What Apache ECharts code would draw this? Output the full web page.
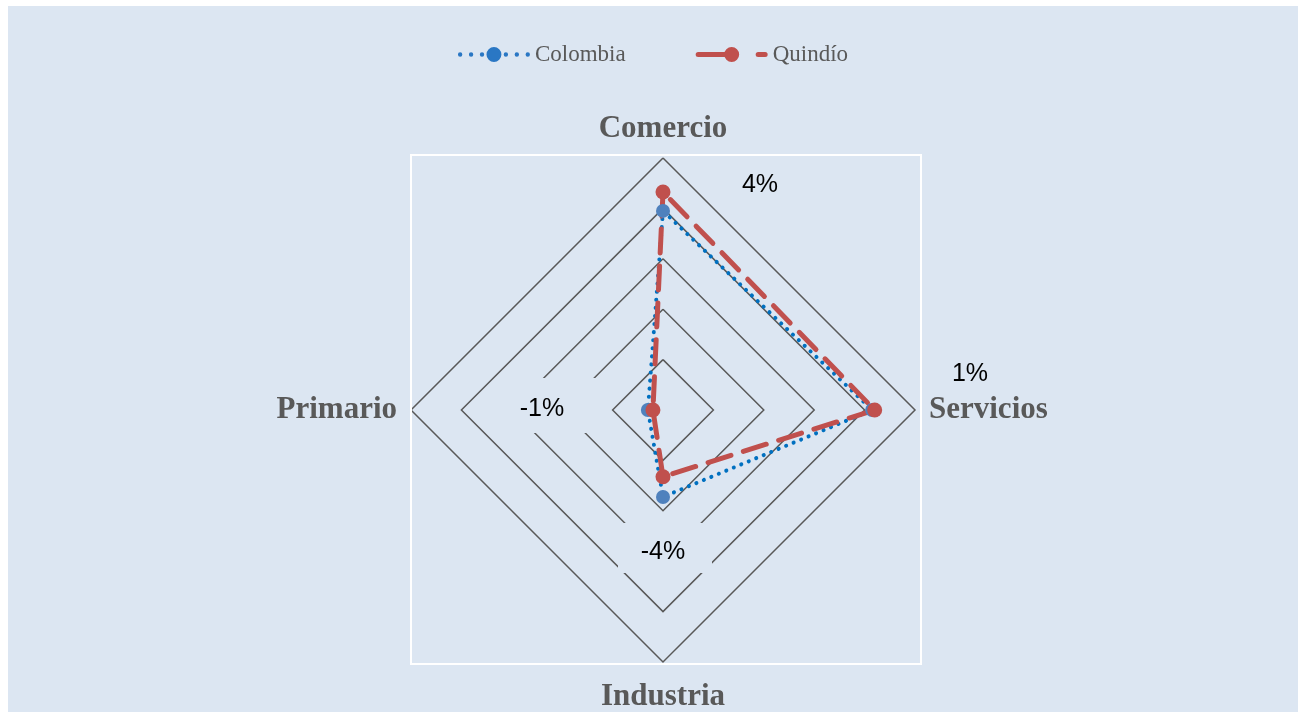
<!DOCTYPE html>
<html lang="es">
<head>
    <meta charset="UTF-8">
    <script src="https://cdn.jsdelivr.net/npm/echarts@6/dist/echarts.min.js"></script>
    <title>Radar Colombia vs Quindío</title>
    <style>
        body { margin: 0; background: #ffffff; }
        #main { position: absolute; left: 8px; top: 6px; width: 1290px; height: 706px; background: #dce6f2; }
    </style>
</head>
<body>
    <div id="main"></div>
    <script type="text/javascript">
        // categories clockwise from the top, as in the picture
        let categories = ['Comercio', 'Servicios', 'Industria', 'Primario'];
        // growth, in %
        let colombia = [1.9, 2.3, -2.55, -5.4];
        let quindio = [2.65, 2.4, -3.35, -5.6];
        let axisMin = -6;
        let axisMax = 4;
        // loose text labels sitting on the chart
        let noteText = ['4%', '1%', '-1%', '-4%'];

        // echarts goes counter-clockwise, so keep the first and reverse the rest
        let order = [0, 3, 2, 1];
        let indicator = order.map(function (i) {
            return { name: categories[i], min: axisMin, max: axisMax };
        });
        let reorder = function (arr) {
            return order.map(function (i) { return arr[i]; });
        };

        // legend icons: line + marker, drawn in a 72x15 box (all clockwise so nothing cancels out)
        function circle(cx, cy, r) {
            return 'M' + (cx - r) + ' ' + cy + ' a' + r + ' ' + r + ' 0 1 1 ' + (2 * r) + ' 0' +
                ' a' + r + ' ' + r + ' 0 1 1 ' + (-2 * r) + ' 0 Z ';
        }
        let dotIcon = 'path://' + [2, 13, 24, 48, 59, 70].map(function (x) {
            return circle(x, 7.5, 2.2);
        }).join('') + circle(36, 7.5, 7.5);
        let dashIcon = 'path://M2.5 5 L36 5 L36 10 L2.5 10 a2.5 2.5 0 0 1 0 -5 Z ' +
            circle(36, 7.5, 7.5) +
            'M62.5 5 L69.5 5 a2.5 2.5 0 0 1 0 5 L62.5 10 a2.5 2.5 0 0 1 0 -5 Z';

        let bg = '#dce6f2';
        let myChart = echarts.init(document.getElementById('main'));

        let option = {
            backgroundColor: bg,
            animation: false,
            legend: {
                top: 32,
                left: 'center',
                itemWidth: 72,
                itemHeight: 15,
                itemGap: 70,
                itemStyle: { borderWidth: 0 },
                textStyle: { fontFamily: 'Liberation Serif', fontSize: 23, color: '#595959' },
                data: [
                    { name: 'Colombia', icon: dotIcon, itemStyle: { color: '#2a77c4' } },
                    { name: 'Quindío', icon: dashIcon, itemStyle: { color: '#c0504d' } }
                ]
            },
            radar: {
                center: [655, 404],
                radius: 252,
                shape: 'polygon',
                startAngle: 90,
                splitNumber: 5,
                indicator: indicator,
                axisName: {
                    fontFamily: 'Liberation Serif',
                    fontWeight: 'bold',
                    fontSize: 31,
                    color: '#595959',
                    padding: [5, 0, 0, 0]
                },
                nameGap: 14,
                axisLine: { show: false },
                axisTick: { show: false },
                axisLabel: { show: false },
                splitArea: { show: false },
                splitLine: { lineStyle: { color: '#595959', width: 1.5 } }
            },
            graphic: [
                {
                    type: 'rect', z: 1, silent: true,
                    shape: { x: 403, y: 149, width: 510, height: 509 },
                    style: { fill: null, stroke: '#ffffff', lineWidth: 2 }
                },
                {
                    type: 'rect', z: 5, silent: true,
                    shape: { x: 489, y: 372, width: 101, height: 55 },
                    style: { fill: bg }
                },
                {
                    type: 'rect', z: 5, silent: true,
                    shape: { x: 610, y: 517, width: 94, height: 50 },
                    style: { fill: bg }
                },
                {
                    type: 'text', z: 6, silent: true, x: 752, y: 179,
                    style: { text: noteText[0], fontFamily: 'Liberation Sans', fontSize: 25, fill: '#000', align: 'center', verticalAlign: 'middle' }
                },
                {
                    type: 'text', z: 6, silent: true, x: 962, y: 368,
                    style: { text: noteText[1], fontFamily: 'Liberation Sans', fontSize: 25, fill: '#000', align: 'center', verticalAlign: 'middle' }
                },
                {
                    type: 'text', z: 6, silent: true, x: 534, y: 403,
                    style: { text: noteText[2], fontFamily: 'Liberation Sans', fontSize: 25, fill: '#000', align: 'center', verticalAlign: 'middle' }
                },
                {
                    type: 'text', z: 6, silent: true, x: 655, y: 546,
                    style: { text: noteText[3], fontFamily: 'Liberation Sans', fontSize: 25, fill: '#000', align: 'center', verticalAlign: 'middle' }
                }
            ],
            series: [{
                type: 'radar',
                z: 10,
                data: [
                    {
                        name: 'Colombia',
                        value: reorder(colombia),
                        symbol: 'circle',
                        symbolSize: 14,
                        itemStyle: { color: '#4f81bd' },
                        lineStyle: { color: '#0070c0', width: 4, type: [0.1, 8], cap: 'round' }
                    },
                    {
                        name: 'Quindío',
                        value: reorder(quindio),
                        symbol: 'circle',
                        symbolSize: 15,
                        itemStyle: { color: '#c0504d' },
                        lineStyle: { color: '#c0504d', width: 5, type: [24, 13], cap: 'round' }
                    }
                ]
            }]
        };

        myChart.setOption(option);
    </script>
</body>
</html>
